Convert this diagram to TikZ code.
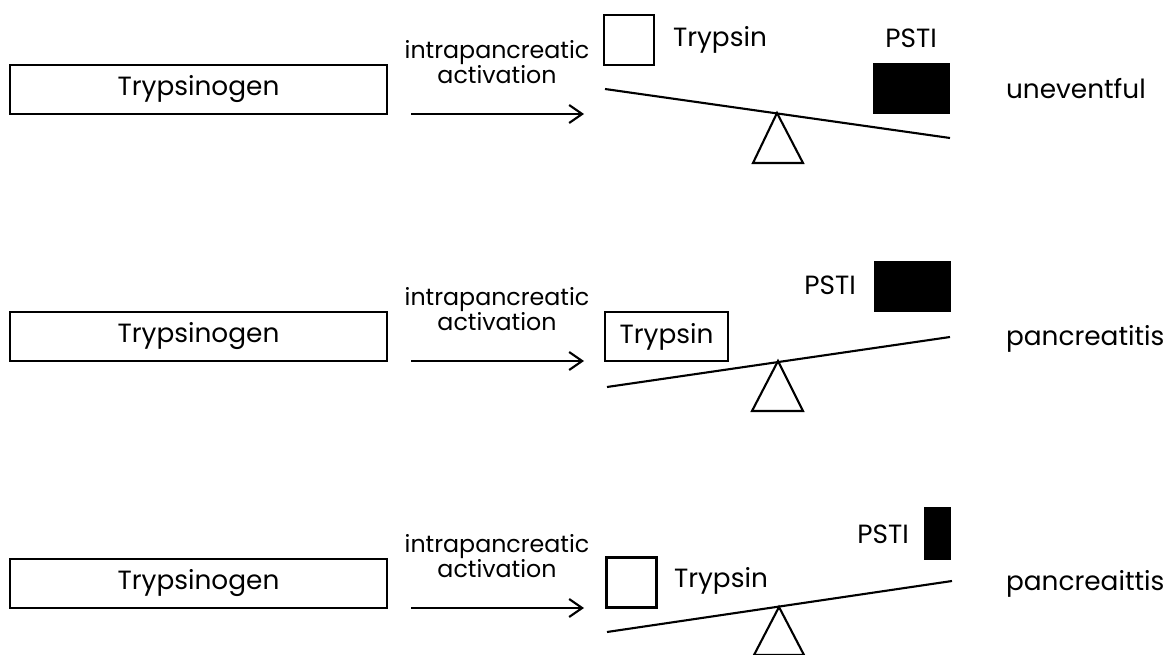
\documentclass[tikz,border=0pt]{standalone}
\usepackage{fontspec}
\setmainfont{Poppins}
\usetikzlibrary{arrows.meta}
\begin{document}
\begin{tikzpicture}[x=0.02cm, y=-0.02cm, line width=1.2pt,
	every node/.style={font=\fontsize{15}{14.5}\selectfont, inner sep=0pt},
	zymogen/.style={draw, minimum width=7.54cm, minimum height=0.98cm},
	enzyme/.style={draw, minimum width=1cm, minimum height=1cm},
	inhib/.style={fill=black, minimum width=1.54cm, minimum height=1.02cm},
	actlabel/.style={align=center, font=\fontsize{13.5}{14.2}\selectfont},
	actarrow/.style={-{Straight Barb[length=2.6mm, width=3.6mm]}}]
	\useasboundingbox (0,0) rectangle (1167,655);
	% row 1
	\node[zymogen] (tg1) at (198.5,89.5) {Trypsinogen};
	\node[actlabel] (act1) at (497,62) {intrapancreatic\\activation};
	\coordinate (as1) at (411,114);
	\coordinate (ae1) at (584,114);
	\draw[actarrow] (as1) -- (ae1);
	\node[enzyme] (tr1) at (629,40) {};
	\node[anchor=base west] (trl1) at (672,47) {Trypsin};
	\node[inhib] (ps1) at (911.5,88.5) {};
	\node[anchor=base] (psl1) at (911,48) {PSTI};
	\draw (605,89) -- (950,138);
	\draw (777,113) -- (753,163) -- (803,163) -- cycle;
	\node[anchor=base west] (out1) at (1005,99) {uneventful};
	% row 2
	\node[zymogen] (tg2) at (198.5,336.5) {Trypsinogen};
	\node[actlabel] (act2) at (497,309) {intrapancreatic\\activation};
	\coordinate (as2) at (411,361);
	\coordinate (ae2) at (584,361);
	\draw[actarrow] (as2) -- (ae2);
	\node[draw, minimum width=2.46cm, minimum height=0.98cm] (tr2) at (666.5,336.5) {Trypsin};
	\node[inhib] (ps2) at (912,286.5) {};
	\node[anchor=base east] (psl2) at (857,295) {PSTI};
	\draw (607,387) -- (950,337);
	\draw (778,361) -- (752,411) -- (803,411) -- cycle;
	\node[anchor=base west] (out2) at (1005,346) {pancreatitis};
	% row 3
	\node[zymogen] (tg3) at (198.5,583.5) {Trypsinogen};
	\node[actlabel] (act3) at (497,556) {intrapancreatic\\activation};
	\coordinate (as3) at (411,608);
	\coordinate (ae3) at (584,608);
	\draw[actarrow] (as3) -- (ae3);
	\node[enzyme] (tr3) at (631.5,582.5) {};
	\node[anchor=base west] (trl3) at (673,587) {Trypsin};
	\node[inhib, minimum width=0.54cm, minimum height=1.06cm] (ps3) at (937.5,533.5) {};
	\node[anchor=base east] (psl3) at (910,543) {PSTI};
	\draw (607,632) -- (952,581);
	\draw (779,607) -- (754,655) -- (804,655) -- cycle;
	\node[anchor=base west] (out3) at (1005,590) {pancreaittis};
\end{tikzpicture}
\end{document}
